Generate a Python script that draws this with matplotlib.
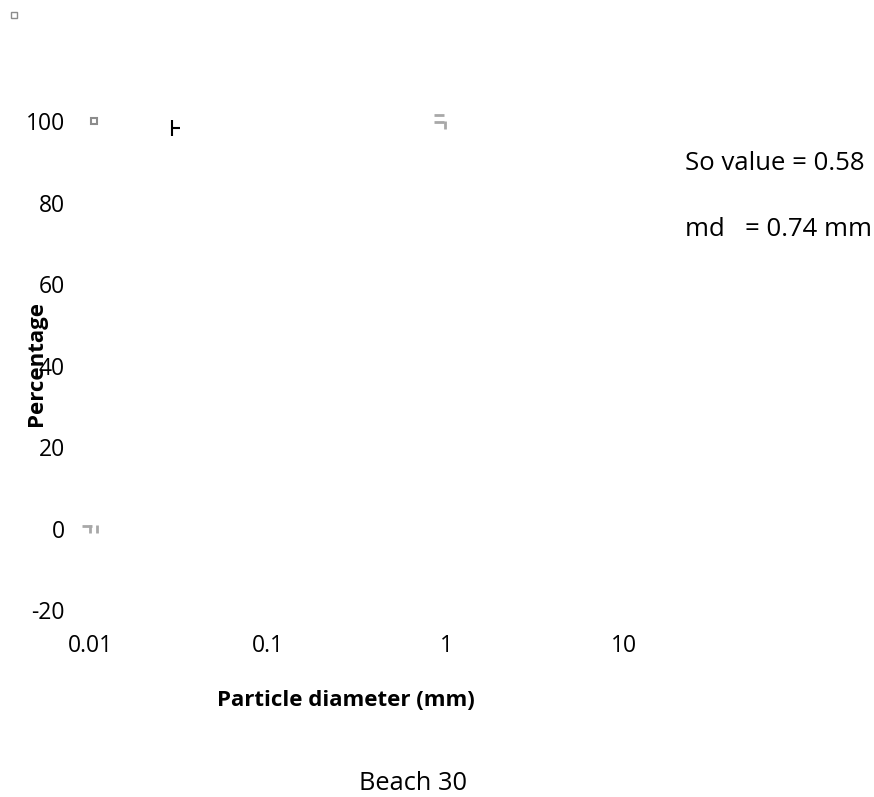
import matplotlib
matplotlib.use("Agg")
import matplotlib.pyplot as plt

plt.rcParams['font.family'] = ['Open Sans', 'DejaVu Sans']
plt.rcParams['axes.unicode_minus'] = False

# Axis ticks
x_ticks = [0.01, 0.1, 1, 10]
x_tick_labels = ["0.01", "0.1", "1", "10"]
y_ticks = [-20, 0, 20, 40, 60, 80, 100]

# Visible point markers (diameter in mm, percentage finer)
grey_sq_x = [0.0105]
grey_sq_y = [100]
black_x = [0.0289]
black_y = [98.3]
grey_dash_x = [0.913, 0.913, 0.00968]
grey_dash_y = [101.5, 99.75, 0.5]
grey_bar_x = [0.987, 0.01, 0.0109]
grey_bar_y = [99.0, -0.2, -0.2]

so_value = 0.58
md_value = 0.74

W, H = 874, 797
fig = plt.figure(figsize=(W / 100, H / 100), dpi=100)
ax = fig.add_axes([90 / W, 1 - 610 / H, 534 / W, 489 / H])
ax.set_xscale('log')
ax.set_xlim(0.01, 10)
ax.set_ylim(-20, 100)
for s in ax.spines.values():
    s.set_visible(False)
ax.tick_params(which='both', length=0, labelsize=16.5)
ax.minorticks_off()
ax.set_xticks(x_ticks)
ax.set_xticklabels(x_tick_labels)
ax.set_yticks(y_ticks)
ax.tick_params(axis='x', pad=17)
ax.tick_params(axis='y', pad=18)

ax.plot(grey_sq_x, grey_sq_y, ls='none', marker='s', ms=5, mfc='white',
        mec='#8c8c8c', mew=1.5, clip_on=False)
ax.plot(black_x, black_y, ls='none', marker='|', ms=12, mec='black', mew=1.5, clip_on=False)
ax.plot(black_x, black_y, ls='none', marker=1, ms=6, mec='black', mew=1.5, clip_on=False)
ax.plot(grey_dash_x, grey_dash_y, ls='none', marker='_', ms=7, mec='#a8a8a8', mew=2, clip_on=False)
ax.plot(grey_bar_x, grey_bar_y, ls='none', marker='|', ms=6, mec='#a8a8a8', mew=2, clip_on=False)

ax.set_xlabel("Particle diameter (mm)", fontsize=16, fontweight='bold')
ax.xaxis.set_label_coords(0.479, -0.1636)
ax.set_ylabel("Percentage", fontsize=16, fontweight='bold')
ax.yaxis.set_label_coords(-0.0805, 0.505)

fig.text(685 / W, 1 - 164 / H, f"So value = {so_value}", fontsize=18.5, va='center', ha='left')
fig.text(685 / W, 1 - 229 / H, f"md   = {md_value} mm", fontsize=18.5, va='center', ha='left')
fig.text(413 / W, 1 - 783 / H, "Beach 30", fontsize=18.3, va='center', ha='center')

# Legend marker box in the top-left corner
fig.patches.append(plt.Rectangle((11 / W, 1 - 18 / H), 6 / W, 6 / H,
                                 transform=fig.transFigure, fill=False,
                                 ec='#8c8c8c', lw=1))

fig.savefig("out.png", dpi=100)
